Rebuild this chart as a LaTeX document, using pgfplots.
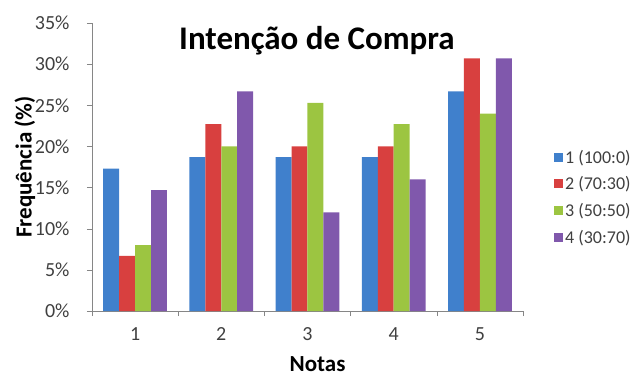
\documentclass[border=0pt]{standalone}
\usepackage{pgfplots}
\pgfplotsset{compat=1.18}
\usepackage{fontspec}
\setmainfont{Carlito}

\definecolor{cblue}{HTML}{4080CC}
\definecolor{cred}{HTML}{D8403F}
\definecolor{cgreen}{HTML}{9CC541}
\definecolor{cpurple}{HTML}{8058AC}
\definecolor{axgray}{HTML}{868686}
\definecolor{txt}{HTML}{404040}

\begin{document}
\begin{tikzpicture}
\useasboundingbox (-92pt,-65pt) rectangle (546pt,311pt);
\begin{axis}[
  at={(0,0)}, anchor=south west,
  scale only axis, width=431pt, height=288pt,
  ybar=0pt, bar width=0.185,
  xmin=0.5, xmax=5.5, ymin=0, ymax=35,
  xtick={1,2,3,4,5},
  minor xtick={0.5,1.5,2.5,3.5,4.5,5.5},
  major x tick style={draw=none},
  minor x tick style={draw=axgray, thin},
  xtick pos=bottom,
  ytick={0,5,...,35},
  ytick pos=left,
  tick align=outside,
  major tick length=5pt, minor tick length=5pt,
  ytick style={draw=axgray, thin},
  yticklabel={\pgfmathprintnumber{\tick}\%},
  /pgf/number format/assume math mode=true,
  every tick label/.append style={font=\fontsize{20}{22}\selectfont, text=txt},
  xticklabel style={yshift=-8pt},
  yticklabel style={anchor=east, xshift=-14pt},
  axis x line*=bottom, axis y line*=left,
  axis line style={draw=axgray, thin, -},
  xlabel={\bfseries Notas},
  ylabel={\bfseries Frequência (\%)},
  label style={font=\fontsize{23}{26}\selectfont},
  xlabel style={at={(rel axis cs:0.5,0)}, anchor=north, xshift=10pt, yshift=-42pt},
  ylabel style={at={(rel axis cs:0,0.5)}, anchor=center, yshift=67pt},
  legend style={draw=none, fill=none, at={(1.065,0.395)}, anchor=west,
    font=\fontsize{18}{20}\selectfont, text=txt, row sep=8pt,
    /tikz/every even column/.append style={column sep=2pt}},
  legend cell align=left,
  legend image code/.code={\path[#1] (0pt,-4.5pt) rectangle (9pt,4.5pt);},
  every axis plot/.append style={draw=none},
]
\addplot[fill=cblue]
  coordinates {(1,17.3) (2,18.7) (3,18.7) (4,18.7) (5,26.7)};
\addplot[fill=cred]
  coordinates {(1,6.7) (2,22.7) (3,20.0) (4,20.0) (5,30.7)};
\addplot[fill=cgreen]
  coordinates {(1,8.0) (2,20.0) (3,25.3) (4,22.7) (5,24.0)};
\addplot[fill=cpurple]
  coordinates {(1,14.7) (2,26.7) (3,12.0) (4,16.0) (5,30.7)};
\legend{1 (100:0), 2 (70:30), 3 (50:50), 4 (30:70)}
\node[font=\bfseries\fontsize{33}{36}\selectfont, anchor=center]
  at (rel axis cs:0.522,0.94) {Intenção de Compra};
\end{axis}
\end{tikzpicture}
\end{document}
